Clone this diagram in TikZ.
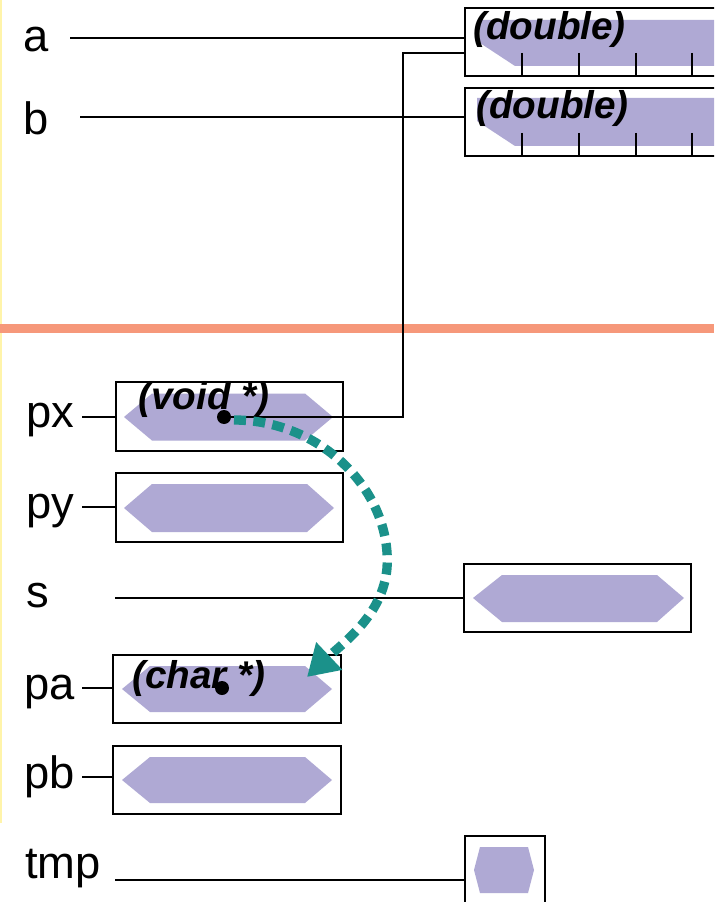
\documentclass[tikz,border=0pt]{standalone}
\usepackage{fontspec}
\setmainfont{Liberation Sans}
\usetikzlibrary{arrows.meta}
\definecolor{hexfill}{RGB}{175,169,212}
\definecolor{ptrteal}{RGB}{27,145,138}
\definecolor{sepor}{RGB}{246,152,122}
\definecolor{edgey}{RGB}{255,244,170}
\begin{document}
\begin{tikzpicture}[x=0.75pt,y=-0.75pt,
  lbl/.style={anchor=base west, inner sep=0pt, font=\fontsize{34}{40}\selectfont},
  typ/.style={anchor=base west, inner sep=0pt, font=\fontsize{29}{34}\selectfont\bfseries\itshape},
  cell/.style={draw=black, line width=0.9pt, anchor=north west, inner sep=0pt, outer sep=0pt},
  wire/.style={draw=black, line width=0.8pt},
  hexa/.style={fill=hexfill, draw=none},
  dot/.style={circle, fill=black, inner sep=0pt, minimum size=10.5pt},
  ptr/.style={draw=ptrteal, line width=7pt, dash pattern=on 9pt off 5.5pt, -{Triangle[length=23pt,width=27pt]}},
  tickm/.style={draw=black, line width=0.9pt}
]
\useasboundingbox (0,0) rectangle (714,902);
\clip (0,0) rectangle (714,902);
\fill[white] (0,0) rectangle (714,902);
% edge and separator
\draw[edgey, line width=1.2pt] (1,0) -- (1,823);
\draw[sepor, line width=6.75pt] (0,328.5) -- (714,328.5);

% purple shapes
\fill[hexfill] (480,20) -- (725,20) -- (725,66) -- (515,66) -- (480,43) -- cycle;
\fill[hexfill] (477,98) -- (725,98) -- (725,146) -- (515,146) -- (477,121) -- cycle;
\fill[hexfill] (124,417) -- (152,393.5) -- (305,393.5) -- (333,417) -- (305,440.5) -- (152,440.5) -- cycle;
\fill[hexfill] (124,508) -- (152,484) -- (307,484) -- (334,508) -- (307,532) -- (152,532) -- cycle;
\fill[hexfill] (473,598) -- (502,575) -- (657,575) -- (684,598) -- (657,622) -- (502,622) -- cycle;
\fill[hexfill] (122,689) -- (150,666) -- (305,666) -- (332,689) -- (305,712) -- (150,712) -- cycle;
\fill[hexfill] (122,780) -- (150,757) -- (305,757) -- (332,780) -- (305,803) -- (150,803) -- cycle;
\fill[hexfill] (474,870) -- (480,847) -- (528,847) -- (534,870) -- (528,893) -- (480,893) -- cycle;

% cells
\node[cell, minimum width=195pt, minimum height=51pt] (ba) at (465,8) {};
\node[cell, minimum width=195pt, minimum height=51pt] (bb) at (465,88) {};
\node[cell, minimum width=170.25pt, minimum height=51.75pt] (bpx) at (116,382) {};
\node[cell, minimum width=170.25pt, minimum height=51.75pt] (bpy) at (116,473) {};
\node[cell, minimum width=170.25pt, minimum height=51pt] (bs) at (464,564) {};
\node[cell, minimum width=171pt, minimum height=51pt] (bpa) at (113,655) {};
\node[cell, minimum width=171pt, minimum height=51pt] (bpb) at (113,746) {};
\node[cell, minimum width=60pt, minimum height=60pt] (btmp) at (465,836) {};

% ticks
\foreach \tx in {522,579,636,692} {
  \draw[tickm] (\tx,53) -- (\tx,76);
  \draw[tickm] (\tx,133) -- (\tx,156);
}

% type texts
\node[typ] (ta) at (473,40) {(double)};
\node[typ] (tb) at (476,119) {(double)};
\node[typ] (tpx) at (138,409) {(void *)};
\node[typ] (tpa) at (132,688) {(char *)};

% labels
\node[lbl] (la) at (23,52) {a};
\node[lbl] (lb) at (23,135) {b};
\node[lbl] (lpx) at (26,427) {px};
\node[lbl] (lpy) at (26,518) {py};
\node[lbl] (ls) at (26,607) {s};
\node[lbl] (lpa) at (24,699) {pa};
\node[lbl] (lpb) at (24,788) {pb};
\node[lbl] (ltmp) at (25,878) {tmp};

% label wires
\coordinate (sa) at (70,38);
\coordinate (sb) at (80,117);
\coordinate (spx) at (82,417);
\coordinate (spy) at (82,507);
\coordinate (ss) at (115,598);
\coordinate (spa) at (82,688);
\coordinate (spb) at (82,777);
\coordinate (stmp) at (115,880);
\draw[wire] (sa) -- (sa -| ba.west);
\draw[wire] (sb) -- (sb -| bb.west);
\draw[wire] (spx) -- (spx -| bpx.west);
\draw[wire] (spy) -- (spy -| bpy.west);
\draw[wire] (ss) -- (ss -| bs.west);
\draw[wire] (spa) -- (spa -| bpa.west);
\draw[wire] (spb) -- (spb -| bpb.west);
\draw[wire] (stmp) -- (stmp -| btmp.west);

% pointer px -> a
\node[dot] (dpx) at (224,417) {};
\node[dot] (dpa) at (222,688) {};
\coordinate (bend) at (403,53);
\draw[wire] (dpx.center) -| (bend) -- (bend -| ba.west);

% pointer arrow
\coordinate (apx) at (234,420);
\coordinate (apa) at (307,677);
\draw[ptr] (apx) .. controls (322,420) and (392,492) .. (387,568)
  .. controls (383,615) and (343,643) .. (apa);
\end{tikzpicture}
\end{document}
